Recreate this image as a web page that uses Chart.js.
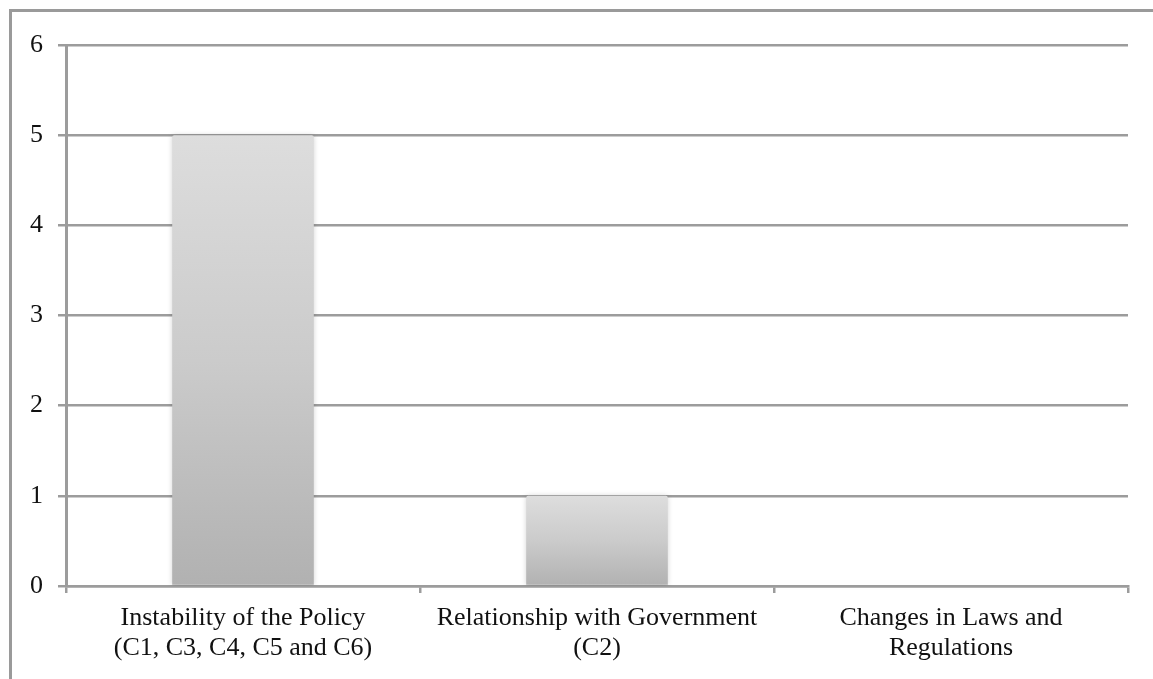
<!DOCTYPE html>
<html>
<head>
<meta charset="utf-8">
<script src="https://cdn.jsdelivr.net/npm/chart.js@4"></script>
<style>
  html, body { margin: 0; padding: 0; background: #fff; overflow: hidden; }
  #wrap { position: relative; width: 1153px; height: 679px; }
</style>
</head>
<body>
<div id="wrap"><canvas id="riskChart"></canvas></div>
<script>
// Categories (multi-line labels) and counts
const categories = [
    ['Instability of the Policy', '(C1, C3, C4, C5 and C6)'],
    ['Relationship with Government', '(C2)'],
    ['Changes in Laws and', 'Regulations']
];
const counts = [5, 1, 0];
const yMin = 0;
const yMax = 6;
const yStep = 1;

const lineGrey = '#9c9c9c';
const labelFont = { family: "'Liberation Serif', 'Times New Roman', serif", size: 26, lineHeight: 1.12 };

// Vertical grey gradient per bar, light at the top, darker at the base
function barFill(context) {
    const chart = context.chart;
    const { ctx, chartArea, scales } = chart;
    if (!chartArea) return '#c8c8c8';
    const top = scales.y.getPixelForValue(context.raw);
    const base = scales.y.getPixelForValue(0);
    if (Math.abs(base - top) < 1) return '#c8c8c8';
    const g = ctx.createLinearGradient(0, base, 0, top);
    g.addColorStop(0, '#b1b1b1');
    g.addColorStop(0.5, '#cbcbcb');
    g.addColorStop(1, '#dddddd');
    return g;
}

// Outer frame (top and left edges only) plus a soft shadow around the bars
const framePlugin = {
    id: 'frame',
    beforeDraw(chart) {
        const c = chart.ctx;
        c.save();
        c.strokeStyle = '#9a9a9a';
        c.lineWidth = 3;
        c.beginPath();
        c.moveTo(10.5, chart.height + 5);
        c.lineTo(10.5, 10.5);
        c.lineTo(chart.width + 5, 10.5);
        c.stroke();
        c.restore();
    },
    beforeDatasetsDraw(chart) {
        const c = chart.ctx;
        c.save();
        c.shadowColor = 'rgba(0, 0, 0, 0.18)';
        c.shadowBlur = 5;
    },
    afterDatasetsDraw(chart) {
        chart.ctx.restore();
    }
};

new Chart(document.getElementById('riskChart'), {
    type: 'bar',
    data: {
        labels: categories,
        datasets: [{
            data: counts,
            backgroundColor: barFill,
            borderWidth: 0,
            borderRadius: { topLeft: 2, topRight: 2 },
            borderSkipped: 'bottom',
            barPercentage: 0.4,
            categoryPercentage: 1.0
        }]
    },
    options: {
        responsive: true,
        maintainAspectRatio: false,
        animation: false,
        layout: { padding: { top: 45, right: 25, left: 10, bottom: 0 } },
        plugins: {
            legend: { display: false },
            tooltip: { enabled: false }
        },
        scales: {
            x: {
                grid: {
                    offset: true,
                    drawOnChartArea: false,
                    drawTicks: true,
                    tickLength: 7,
                    color: lineGrey,
                    lineWidth: 2.5
                },
                border: { color: lineGrey, width: 2.5 },
                ticks: {
                    color: '#111',
                    font: labelFont,
                    padding: 11,
                    maxRotation: 0,
                    autoSkip: false
                },
                afterFit(scale) { scale.height = 93; }
            },
            y: {
                min: yMin,
                max: yMax,
                grid: {
                    color: lineGrey,
                    lineWidth: 2.5,
                    tickLength: 8
                },
                border: { color: lineGrey, width: 3 },
                ticks: {
                    stepSize: yStep,
                    color: '#111',
                    font: { family: labelFont.family, size: 26 },
                    padding: 15
                },
                afterFit(scale) { scale.width = 56; }
            }
        }
    },
    plugins: [framePlugin]
});
</script>
</body>
</html>
